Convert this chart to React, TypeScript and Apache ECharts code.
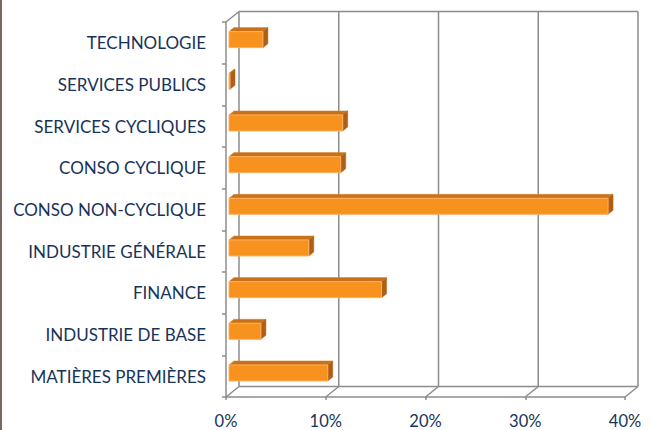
import React, { useEffect, useRef } from "react";
import * as echarts from "echarts";

const categories = [
  "MATIÈRES PREMIÈRES",
  "INDUSTRIE DE BASE",
  "FINANCE",
  "INDUSTRIE GÉNÉRALE",
  "CONSO NON-CYCLIQUE",
  "CONSO CYCLIQUE",
  "SERVICES CYCLIQUES",
  "SERVICES PUBLICS",
  "TECHNOLOGIE",
];
const values = [0.099, 0.032, 0.153, 0.08, 0.38, 0.112, 0.114, 0.001, 0.034];
const xTicks = [0, 0.1, 0.2, 0.3, 0.4];

const LINE = "#8c8c8c";
const TEXT = "#17335a";
const FONT = "Lato";

export default function App() {
  const ref = useRef<HTMLDivElement>(null);
  useEffect(() => {
    const chart = echarts.init(ref.current!, undefined, { renderer: "svg" });
    const DX = 13;
    const DY = -10.5;
    const option: any = {
      animation: false,
      backgroundColor: "#ffffff",
      textStyle: { fontFamily: FONT },
      graphic: [
        {
          type: "rect",
          left: 0,
          top: 0,
          shape: { x: 0, y: 0, width: 2, height: 430 },
          style: { fill: "#756b62" },
          z: 10,
        },
      ],
      grid: { left: 226, right: 28, top: 22, bottom: 33, containLabel: false },
      xAxis: {
        type: "value",
        min: 0,
        max: 0.4,
        interval: 0.1,
        axisLine: { show: true, lineStyle: { color: LINE, width: 1.5 } },
        axisTick: { show: true, length: 3, lineStyle: { color: LINE, width: 1.5 } },
        splitLine: { show: false },
        axisLabel: {
          color: TEXT,
          fontFamily: FONT,
          fontSize: 16.5,
          margin: 15,
          formatter: (v: number) => Math.round(v * 100) + "%",
        },
      },
      yAxis: {
        type: "category",
        data: categories,
        axisLine: { show: true, lineStyle: { color: LINE, width: 1.5 } },
        axisTick: { show: true, length: 4, lineStyle: { color: LINE, width: 1.5 } },
        axisLabel: { color: TEXT, fontFamily: FONT, fontSize: 17, margin: 20 },
        splitLine: { show: false },
      },
      series: [
        {
          type: "custom",
          silent: true,
          clip: false,
          z: 1,
          data: [[0, 0]],
          encode: { x: 0, y: 1 },
          renderItem: (params: any, api: any) => {
            const cs = params.coordSys;
            const top = cs.y;
            const bottom = cs.y + cs.height;
            const xs = xTicks.map((t) => api.coord([t, 0])[0]);
            const ls = { stroke: LINE, lineWidth: 1.5, fill: "none" };
            const children: any[] = [];
            xs.forEach((x) => {
              children.push({
                type: "line",
                shape: { x1: x + DX, y1: top + DY, x2: x + DX, y2: bottom + DY },
                style: ls,
              });
              children.push({
                type: "line",
                shape: { x1: x, y1: bottom, x2: x + DX, y2: bottom + DY },
                style: ls,
              });
            });
            const x0 = xs[0];
            const x4 = xs[xs.length - 1];
            children.push({
              type: "line",
              shape: { x1: x0 + DX, y1: bottom + DY, x2: x4 + DX, y2: bottom + DY },
              style: ls,
            });
            children.push({
              type: "line",
              shape: { x1: x0 + DX, y1: top + DY, x2: x4 + DX, y2: top + DY },
              style: ls,
            });
            children.push({
              type: "line",
              shape: { x1: x0, y1: top, x2: x0 + DX, y2: top + DY },
              style: ls,
            });
            return { type: "group", children };
          },
        },
        {
          type: "custom",
          z: 5,
          clip: false,
          data: values.map((v, i) => [v, i]),
          encode: { x: 0, y: 1 },
          renderItem: (params: any, api: any) => {
            const v = api.value(0);
            const c = api.value(1);
            const p0 = api.coord([0, c]);
            const p1 = api.coord([v, c]);
            const band = api.size([0, 1])[1];
            const h = band * 0.385;
            const ox = 3;
            const oy = -3.2;
            const dx = 5;
            const dy = -4;
            const xa = p0[0] + ox;
            const xb = Math.max(p1[0] + ox, xa + 0.5);
            const yc = p0[1] + oy;
            const yt = yc - h / 2;
            const yb = yc + h / 2;
            return {
              type: "group",
              children: [
                {
                  type: "polygon",
                  shape: {
                    points: [
                      [xa, yt],
                      [xb, yt],
                      [xb + dx, yt + dy],
                      [xa + dx, yt + dy],
                    ],
                  },
                  style: { fill: "#c8711b", stroke: "#d9801f", lineWidth: 0.5 },
                },
                {
                  type: "polygon",
                  shape: {
                    points: [
                      [xb, yt],
                      [xb + dx, yt + dy],
                      [xb + dx, yb + dy],
                      [xb, yb],
                    ],
                  },
                  style: { fill: "#ad5f17", stroke: "#b86419", lineWidth: 0.5 },
                },
                {
                  type: "rect",
                  shape: { x: xa, y: yt, width: xb - xa, height: h },
                  style: { fill: "#f7921f", stroke: "#fbb062", lineWidth: 1 },
                },
              ],
            };
          },
        },
      ],
    };
    chart.setOption(option);
    return () => chart.dispose();
  }, []);
  return (
    <div
      ref={ref}
      style={{ position: "fixed", left: 0, top: 0, width: 653, height: 430 }}
    />
  );
}
